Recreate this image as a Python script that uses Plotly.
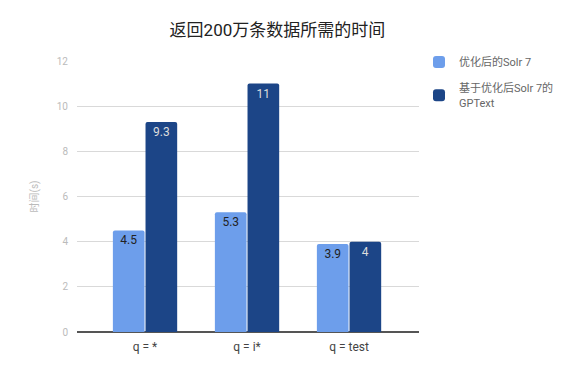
import plotly.graph_objects as go

categories = ["q = *", "q = i*", "q = test"]
solr7 = [4.5, 5.3, 3.9]
gptext = [9.3, 11, 4]
series_names = ["优化后的Solr 7", "基于优化后Solr 7的<br>GPText"]
y_ticks = [0, 2, 4, 6, 8, 10, 12]

FONT = "Roboto, 'Noto Sans CJK SC', sans-serif"

fig = go.Figure()
fig.add_trace(go.Bar(
    x=categories, y=solr7, name=series_names[0], legendgroup="g1",
    marker=dict(color="#6d9eeb", line=dict(width=0)),
    text=[f"{v:g}" for v in solr7], textposition="inside",
    insidetextanchor="end", textangle=0,
    textfont=dict(color="#222222", size=12, family=FONT),
))
fig.add_trace(go.Bar(
    x=categories, y=gptext, name=series_names[1], legendgroup="g2",
    marker=dict(color="#1c4587", line=dict(width=0)),
    text=[f"{v:g}" for v in gptext], textposition="inside",
    insidetextanchor="end", textangle=0,
    textfont=dict(color="#dddddd", size=12, family=FONT),
))

fig.update_layout(
    width=578, height=375,
    margin=dict(l=77, r=159, t=61, b=43),
    paper_bgcolor="white", plot_bgcolor="white",
    font=dict(family=FONT),
    title=dict(text="返回200万条数据所需的时间", x=0.48, xref="container",
               xanchor="center", y=0.92, yref="container", yanchor="middle",
               font=dict(size=17, color="#222222", family=FONT)),
    barmode="group", bargap=0.36, bargroupgap=0.03, barcornerradius=2,
    uniformtext=dict(mode="show", minsize=8),
    showlegend=True,
    legend=dict(x=1.0, y=1.05, xanchor="left", yanchor="top",
                font=dict(size=11, color="#666666", family=FONT),
                tracegroupgap=8, itemwidth=30, bgcolor="rgba(0,0,0,0)"),
    xaxis=dict(range=[-0.667, 2.686], showgrid=False, showline=False,
               ticks="", ticklabelstandoff=6,
               tickfont=dict(size=12, color="#444444", family=FONT)),
    yaxis=dict(range=[0, 12], tickvals=y_ticks, showgrid=True, gridcolor="#d9d9d9",
               zeroline=True, zerolinecolor="#555555", zerolinewidth=1.5,
               ticks="", ticklabelstandoff=8,
               tickfont=dict(size=10, color="#bbbbbb", family=FONT),
               title=dict(text="时间(s)", standoff=16,
                          font=dict(size=10, color="#bbbbbb", family=FONT))),
)

fig.write_html("out.html")
